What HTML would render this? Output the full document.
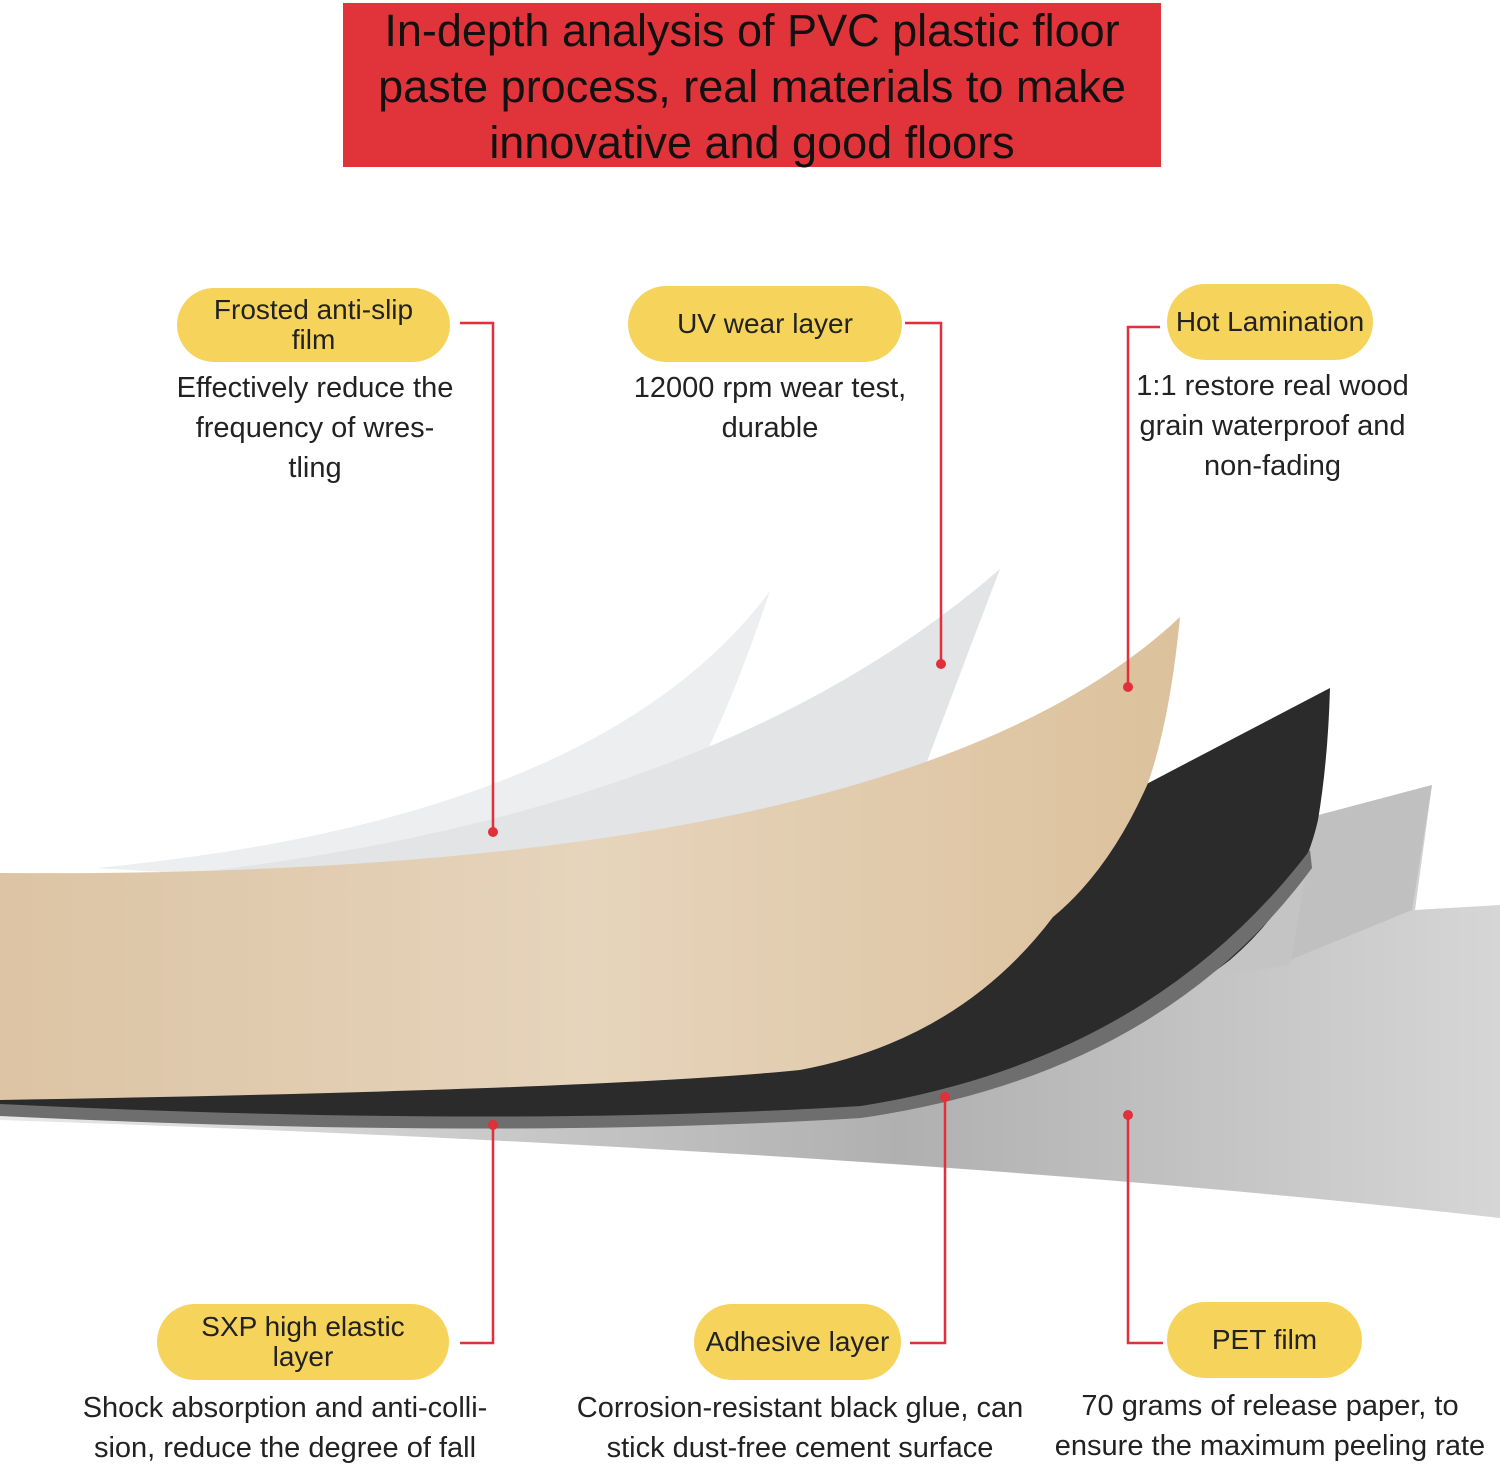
<!DOCTYPE html>
<html><head><meta charset="utf-8"><style>
html,body{margin:0;padding:0;background:#fff}
body{width:1500px;height:1468px;position:relative;overflow:hidden;font-family:"Liberation Sans",sans-serif;color:#222}
.title{position:absolute;left:343px;top:3px;width:818px;height:164px;background:#e0343a;color:#111;font-size:45px;line-height:56px;text-align:center;white-space:nowrap}
.pill{position:absolute;background:#f6d45c;border-radius:40px;text-align:center;font-size:28px;display:flex;align-items:center;justify-content:center;line-height:30px}
.desc{position:absolute;text-align:center;font-size:29px;line-height:40px;color:#222;white-space:nowrap}
</style></head><body>
<svg width="1500" height="1468" style="position:absolute;left:0;top:0">
<defs>
<linearGradient id="gr" x1="0" y1="0" x2="1" y2="0"><stop offset="0" stop-color="#e8e8e8"/><stop offset="0.6" stop-color="#b0b0b0"/><stop offset="1" stop-color="#d6d6d6"/></linearGradient>
<linearGradient id="wd" x1="0" y1="0" x2="1" y2="0"><stop offset="0" stop-color="#dcc4a4"/><stop offset="0.5" stop-color="#e6d4bc"/><stop offset="1" stop-color="#dcc19c"/></linearGradient>
</defs>
<path d="M0 1110 L1000 1050 L1200 960 L1300 820 L1432 785 L1415 910 L1500 905 L1500 1218 Q900 1150 0 1120Z" fill="url(#gr)"/>
<path d="M1300 820 L1432 785 L1412 910 L1290 960Z" fill="#c0c0c0"/>
<path d="M1200 980 L1310 850 L1290 965Z" fill="#c4c4c4"/>
<path d="M96 868 Q600 820 770 591 Q720 740 670 819 Q500 860 300 880Z" fill="#eceeef"/>
<path d="M120 880 Q700 830 1000 569 Q950 700 919 783 Q800 860 500 880Z" fill="#e2e4e6"/>
<path d="M0 1092 L1135 790 L1330 688 Q1328 760 1318 820 Q1300 900 1230 960 Q1100 1060 861 1108 Q500 1130 0 1106Z" fill="#2b2b2b"/>
<path d="M0 1104 Q500 1128 861 1106 Q1150 1060 1310 850 L1312 868 Q1160 1075 861 1118 Q500 1140 0 1116Z" fill="#6e6e6e"/>
<path d="M0 873 Q900 880 1180 617 Q1170 720 1148 783 Q1110 870 1053 917 Q960 1040 800 1070 Q600 1090 0 1100Z" fill="url(#wd)"/>
<g stroke="#e0303a" stroke-width="2.5" fill="none">
<path d="M460 323H493V832"/><path d="M905 323H941V664"/><path d="M1160 327H1128V687"/>
<path d="M493 1125V1343H460"/><path d="M945 1097V1343H910"/><path d="M1128 1115V1343H1163"/>
</g>
<g fill="#e0303a"><circle cx="493" cy="832" r="5"/><circle cx="941" cy="664" r="5"/><circle cx="1128" cy="687" r="5"/><circle cx="493" cy="1125" r="5"/><circle cx="945" cy="1097" r="5"/><circle cx="1128" cy="1115" r="5"/></g>
</svg>
<div class="title">In-depth analysis of PVC plastic floor<br>paste process, real materials to make<br>innovative and good floors</div>
<div class="pill" style="left:177px;top:288px;width:273px;height:74px">Frosted anti-slip<br>film</div>
<div class="pill" style="left:628px;top:286px;width:274px;height:76px">UV wear layer</div>
<div class="pill" style="left:1167px;top:284px;width:206px;height:76px">Hot Lamination</div>
<div class="pill" style="left:157px;top:1304px;width:292px;height:76px">SXP high elastic<br>layer</div>
<div class="pill" style="left:694px;top:1304px;width:207px;height:76px">Adhesive layer</div>
<div class="pill" style="left:1167px;top:1302px;width:195px;height:76px">PET film</div>
<div class="desc" style="left:150px;top:368px;width:330px">Effectively reduce the<br>frequency of wres-<br>tling</div>
<div class="desc" style="left:600px;top:368px;width:340px">12000 rpm wear test,<br>durable</div>
<div class="desc" style="left:1100px;top:366px;width:345px">1:1 restore real wood<br>grain waterproof and<br>non-fading</div>
<div class="desc" style="left:60px;top:1388px;width:450px">Shock absorption and anti-colli-<br>sion, reduce the degree of fall</div>
<div class="desc" style="left:560px;top:1388px;width:480px">Corrosion-resistant black glue, can<br>stick dust-free cement surface</div>
<div class="desc" style="left:1040px;top:1386px;width:460px">70 grams of release paper, to<br>ensure the maximum peeling rate</div>
</body></html>
